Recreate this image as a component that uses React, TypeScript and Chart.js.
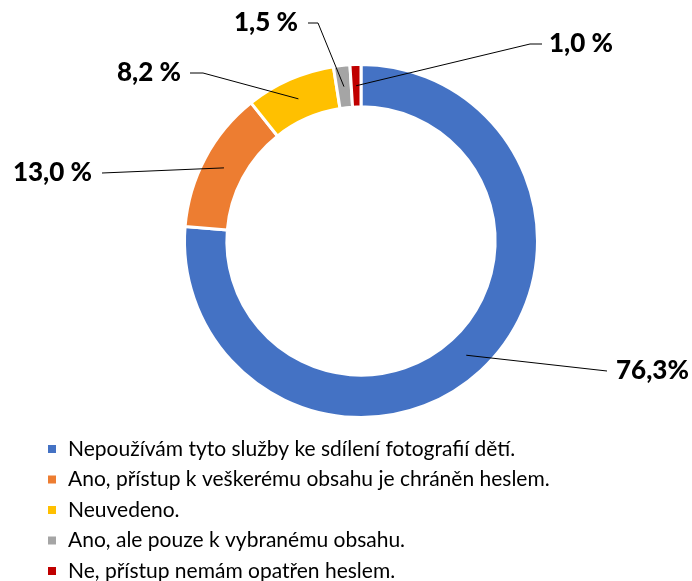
import React, { useEffect, useRef } from "react";
import { Chart, registerables } from "chart.js";

Chart.register(...registerables);

const categories = [
  "Nepoužívám tyto služby ke sdílení fotografií dětí.",
  "Ano, přístup k veškerému obsahu je chráněn heslem.",
  "Neuvedeno.",
  "Ano, ale pouze k vybranému obsahu.",
  "Ne, přístup nemám opatřen heslem.",
];
const values = [76.3, 13.0, 8.2, 1.5, 1.0];
const valueLabels = ["76,3%", "13,0 %", "8,2 %", "1,5 %", "1,0 %"];
const colors = ["#4472C4", "#ED7D31", "#FFC000", "#A5A5A5", "#C00000"];

// label placement relative to doughnut centre (layout only)
const labelLayout = [
  { dx: 255, dy: 130, align: "left", gap: 9, elbow: 0 },
  { dx: -269, dy: -68, align: "right", gap: 10, elbow: 0 },
  { dx: -180, dy: -168, align: "right", gap: 9, elbow: 13 },
  { dx: -63, dy: -218, align: "right", gap: 10, elbow: 10 },
  { dx: 188, dy: -197, align: "left", gap: 7, elbow: 12 },
];

const LABEL_FONT = "900 26px Lato, 'Noto Sans', sans-serif";
const LEGEND_FONT = "21px Lato, 'Noto Sans', sans-serif";

const labelPlugin = {
  id: "leaderLabels",
  afterDraw(chart: any) {
    const ctx = chart.ctx;
    const meta = chart.getDatasetMeta(0);
    ctx.save();
    meta.data.forEach((arc: any, i: number) => {
      const p = arc.getProps(["x", "y", "startAngle", "endAngle", "innerRadius", "outerRadius"], true);
      const mid = (p.startAngle + p.endAngle) / 2;
      const r = (p.innerRadius + p.outerRadius) / 2;
      const ax = p.x + Math.cos(mid) * r;
      const ay = p.y + Math.sin(mid) * r;
      const L = labelLayout[i];
      const tx = p.x + L.dx;
      const ty = p.y + L.dy;
      const dir = L.align === "left" ? -1 : 1;
      const lx = tx + dir * L.gap;
      const ex = lx + dir * L.elbow;
      ctx.strokeStyle = "#000";
      ctx.lineWidth = 1;
      ctx.beginPath();
      ctx.moveTo(lx, ty);
      if (L.elbow) ctx.lineTo(ex, ty);
      ctx.lineTo(ax, ay);
      ctx.stroke();
      ctx.fillStyle = "#000";
      ctx.font = LABEL_FONT;
      ctx.textAlign = L.align;
      ctx.textBaseline = "middle";
      ctx.fillText(valueLabels[i], tx, ty);
    });
    // legend
    ctx.font = LEGEND_FONT;
    ctx.textAlign = "left";
    ctx.textBaseline = "middle";
    categories.forEach((c, i) => {
      const y = 449 + i * 30.5;
      ctx.fillStyle = colors[i];
      ctx.fillRect(48, y - 4, 8, 8);
      ctx.fillStyle = "#000";
      ctx.fillText(c, 68, y);
    });
    ctx.restore();
  },
};

export default function App() {
  const ref = useRef<HTMLCanvasElement | null>(null);
  useEffect(() => {
    if (!ref.current) return;
    const chart = new Chart(ref.current, {
      type: "doughnut",
      data: {
        labels: categories,
        datasets: [
          {
            data: values,
            backgroundColor: colors,
            borderColor: "#ffffff",
            borderWidth: 3,
          },
        ],
      },
      options: {
        responsive: false,
        animation: false,
        cutout: "76%",
        layout: { padding: { top: 63, bottom: 162, left: 183, right: 153 } },
        plugins: {
          legend: { display: false },
          tooltip: { enabled: false },
        },
      },
      plugins: [labelPlugin],
    });
    return () => chart.destroy();
  }, []);
  return (
    <div style={{ position: "absolute", left: 0, top: 0, width: 692, height: 581, background: "#fff" }}>
      <canvas ref={ref} width={692} height={581} style={{ width: 692, height: 581 }} />
    </div>
  );
}
